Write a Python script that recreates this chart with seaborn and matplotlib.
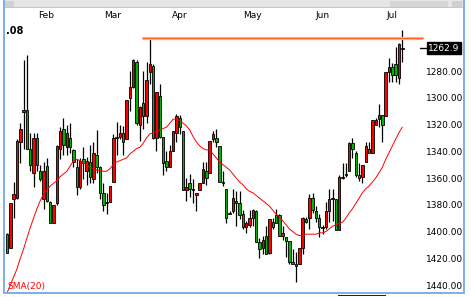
import numpy as np
import pandas as pd
import matplotlib
matplotlib.use("Agg")
import matplotlib.pyplot as plt
from matplotlib.patches import Rectangle
import seaborn as sns

# ---------------- data ----------------
opens = [1402, 1412, 1376, 1375, 1333, 1311, 1309, 1338, 1356, 1330,
         1355, 1376, 1351, 1378, 1394, 1379, 1338, 1323, 1337, 1330,
         1339, 1352, 1367, 1346, 1355, 1348, 1361, 1343, 1352, 1371,
         1378, 1378, 1363, 1329, 1329, 1326, 1331, 1300, 1292, 1273,
         1320, 1304, 1314, 1281, 1276, 1330, 1299, 1329, 1347, 1352,
         1340, 1326, 1315, 1325, 1369, 1364, 1369, 1373, 1369, 1364,
         1355, 1356, 1331, 1330, 1336, 1363, 1368, 1386, 1385, 1377,
         1379, 1387, 1397, 1395, 1390, 1385, 1408, 1412, 1403, 1416,
         1393, 1388, 1388, 1403, 1404, 1407, 1423, 1424, 1424, 1412,
         1391, 1390, 1375, 1385, 1390, 1396.5, 1397, 1385, 1375.5, 1376,
         1399, 1360, 1357, 1355, 1334, 1341, 1358, 1359, 1348, 1338,
         1341, 1320, 1316, 1313, 1314, 1281, 1277, 1275, 1285, 1263.5]
highs = [1416, 1412, 1390, 1376, 1349, 1338, 1338, 1355, 1367, 1355,
         1362, 1383, 1378, 1394, 1394, 1380, 1346, 1343, 1343, 1341,
         1352, 1373, 1368, 1361, 1365, 1364, 1364, 1356, 1376, 1385,
         1387, 1378, 1363, 1343, 1331, 1343, 1331, 1310, 1293, 1320,
         1332, 1323, 1319, 1290, 1331, 1340, 1330, 1358, 1355, 1352,
         1340, 1333, 1327, 1369, 1377, 1374, 1379, 1385, 1369, 1364,
         1365, 1356, 1333, 1337, 1363, 1366, 1394, 1387, 1386, 1396,
         1391, 1398, 1401, 1397, 1396, 1408, 1420, 1417, 1417, 1417,
         1398, 1394, 1403, 1406, 1419, 1424, 1424, 1438, 1424, 1417,
         1394, 1398, 1386, 1393, 1404, 1402, 1398, 1393, 1392, 1399,
         1399, 1361, 1359, 1355, 1345, 1359, 1362, 1364, 1348, 1341,
         1341, 1320, 1322, 1333, 1314, 1288, 1288, 1288, 1290, 1273]
lows = [1401, 1379, 1363, 1331, 1319, 1272, 1268, 1326, 1326, 1326,
        1350, 1348, 1345, 1377, 1380, 1335, 1322, 1315, 1320, 1319,
        1338, 1346, 1345, 1337, 1344, 1335, 1333, 1324, 1351, 1364,
        1371, 1366, 1327, 1318, 1320, 1321, 1302, 1280, 1271, 1272,
        1306, 1280, 1273, 1255, 1275, 1296, 1290, 1329, 1340, 1335,
        1325, 1312, 1313, 1325, 1360, 1357, 1361, 1371, 1364, 1348,
        1348, 1332, 1325, 1323, 1336, 1355, 1368, 1385, 1368, 1370,
        1370, 1384, 1392, 1384, 1383, 1384, 1405, 1403, 1396, 1391,
        1390, 1383, 1387, 1396, 1404, 1407, 1413, 1415, 1412, 1389,
        1389, 1372, 1371, 1381, 1387, 1395, 1378, 1368, 1368, 1376,
        1358, 1349, 1349, 1333, 1330, 1340, 1349, 1350, 1333, 1333,
        1317, 1315, 1305, 1313, 1281, 1270, 1274, 1262, 1259, 1249]
closes = [1416, 1379, 1372, 1332, 1323, 1309, 1338, 1350, 1330, 1350,
          1361, 1355, 1377, 1394, 1380, 1336, 1325, 1335, 1326, 1337,
          1348, 1367, 1347, 1349, 1347, 1359, 1341, 1352, 1371, 1380,
          1379, 1366, 1330, 1330, 1326, 1333, 1302, 1292, 1272, 1319,
          1307, 1314, 1287, 1275, 1330, 1296, 1329, 1349, 1352, 1340,
          1325, 1314, 1322, 1369, 1367, 1368, 1368, 1371, 1364, 1353,
          1360, 1332, 1327, 1333, 1363, 1364, 1390, 1386.5, 1375, 1379,
          1388, 1397, 1394, 1390, 1384, 1408, 1413, 1406, 1417, 1391,
          1397, 1394, 1403, 1401, 1407, 1423, 1424, 1426, 1412, 1390,
          1393, 1375, 1384, 1390, 1397, 1397, 1385, 1376, 1375, 1399,
          1359, 1359, 1358, 1334, 1338, 1358, 1360, 1350, 1336, 1341,
          1317, 1317, 1313, 1320, 1281, 1277, 1283, 1283, 1260, 1262.9]
sma20 = [1446, 1440, 1434, 1428, 1420, 1413, 1405, 1397, 1390, 1383,
         1377, 1372, 1369, 1366, 1364, 1362, 1359, 1357, 1355, 1351,
         1347, 1346, 1347, 1349, 1350, 1352, 1353, 1354, 1354, 1355,
         1355, 1353, 1350, 1348, 1347, 1346, 1345, 1342, 1340, 1338,
         1337, 1334, 1330, 1327, 1326, 1325, 1324, 1323, 1322, 1319,
         1316, 1316, 1317, 1319, 1321, 1324, 1329, 1333, 1336, 1338,
         1339, 1339, 1342, 1345, 1348, 1350, 1352, 1354, 1357, 1360,
         1363, 1365, 1368, 1370, 1371, 1373, 1375, 1377, 1379, 1381,
         1384, 1387, 1389, 1392, 1395, 1398, 1400, 1402, 1403, 1403,
         1402, 1402, 1402, 1402, 1401, 1401, 1400, 1398, 1396, 1395,
         1394, 1393, 1390, 1386, 1383, 1379, 1375, 1371, 1368, 1366,
         1363, 1360, 1356, 1352, 1346, 1341, 1336, 1331, 1326, 1322]

holidays = ["2008-01-21", "2008-02-18", "2008-03-21", "2008-05-26"]
month_names = ["Feb", "Mar", "Apr", "May", "Jun", "Jul"]
y_ticks = [1280, 1300, 1320, 1340, 1360, 1380, 1400, 1420, 1440]
last_label = "1262.9"
top_left_label = ".08"
sma_label = "SMA(20)"

# ---------------- build table ----------------
dates = pd.bdate_range("2008-01-14", "2008-07-03")
dates = dates[~dates.isin(pd.to_datetime(holidays))]
df = pd.DataFrame({"date": dates, "open": opens, "high": highs,
                   "low": lows, "close": closes, "sma": sma20})
df["idx"] = np.arange(len(df))
df["up"] = df["close"] >= df["open"]

sns.set_style("white")
plt.rcParams["font.family"] = ["DejaVu Sans"]

W, H = 471, 297
fig = plt.figure(figsize=(W / 100, H / 100), dpi=100)
fig.patch.set_facecolor("white")

x_left, x_right, y_top, y_bot = 5.5, 423, 25, 291.7
ax = fig.add_axes([x_left / W, (H - y_bot) / H, (x_right - x_left) / W, (y_bot - y_top) / H])
ax.set_facecolor("white")

step = 3.322
x0 = 7.0
ax.set_xlim((x_left - x0) / step, (x_right - x0) / step)
ax.set_ylim(1445.0, 1245.6)

# wicks
ax.vlines(df["idx"], df["low"], df["high"], color="black", linewidth=0.9, zorder=2)
# bodies
body_bottom = np.minimum(df["open"], df["close"])
body_h = np.maximum(np.abs(df["close"] - df["open"]), 0.6)
colors = np.where(df["up"], "#00b400", "#ff0000")
ax.bar(df["idx"], body_h, bottom=body_bottom, width=0.74, color=colors,
       edgecolor="black", linewidth=0.6, zorder=3)

# SMA line
sns.lineplot(data=df, x="idx", y="sma", color="#ff0000", linewidth=0.7,
             ax=ax, zorder=4, legend=False)

# support line at March low
i_low = int(np.argmin(df["low"].values[:100]))
level = df["low"].iloc[i_low]
xr = ax.get_xlim()[1]
ax.hlines(level, i_low - 2.4, xr, color="#ffbf9a", linewidth=2.3, zorder=5, clip_on=False)
ax.hlines(level, i_low - 2.4, xr, color="#ff6420", linewidth=1.0, zorder=6, clip_on=False)

# axes styling
for s in ax.spines.values():
    s.set_visible(False)
ax.yaxis.tick_right()
ax.set_yticks(y_ticks)
ax.set_yticklabels([f"{v:.2f}" for v in y_ticks])
ax.tick_params(axis="y", length=0, pad=2, labelsize=6.5, colors="black")

month_start = [int(np.argmax(df["date"].dt.month.values == m)) for m in range(2, 8)]
ax.xaxis.tick_top()
ax.set_xticks([m - 1.1 for m in month_start])
ax.set_xticklabels(month_names)
ax.tick_params(axis="x", length=0, pad=3.5, labelsize=6.5, colors="black")
ax.set_xlabel("")
ax.set_ylabel("")
ax.grid(False)

# last price box
last = df["close"].iloc[-1]
ytr = ax.get_yaxis_transform()
ax.plot([0.993, 1.008], [last, last], color="black", linewidth=1.0,
        transform=ytr, clip_on=False, zorder=7)
ax.text(1.012, last, last_label, transform=ytr, ha="left", va="center",
        fontsize=6.5, color="white", clip_on=False, zorder=8,
        bbox=dict(boxstyle="square,pad=0.15", facecolor="black", edgecolor="black"))

# texts
fig.text(6 / W, 1 - 31 / H, top_left_label, fontsize=7, fontweight="bold",
         ha="left", va="center", color="black")
fig.text(7 / W, 1 - 286.5 / H, sma_label, fontsize=6.5, ha="left",
         va="center", color="#ff0000")

# window chrome
def frect(x, y, w, h, color, z=10):
    fig.patches.append(Rectangle((x / W, 1 - (y + h) / H), w / W, h / H,
                                 transform=fig.transFigure, facecolor=color,
                                 edgecolor="none", zorder=z))

frect(4, 0, 460, 8, "#e6e6e6")
frect(4, 7.5, 460, 0.8, "#c8c8c8")
frect(5, 1, 9, 6, "#d0d0d0")
frect(390, 1, 58, 6, "#d6d6d6")
frect(452, 1, 10, 6, "#d0d0d0")
frect(3, 0, 1.8, 294, "#7db1e8")
frect(462.8, 0, 1.8, 294, "#7db1e8")
frect(3, 291.8, 461.6, 2.4, "#7db1e8")
frect(338, 294.5, 48, 1.5, "#222222")

fig.savefig("out.png", dpi=100, facecolor="white")
